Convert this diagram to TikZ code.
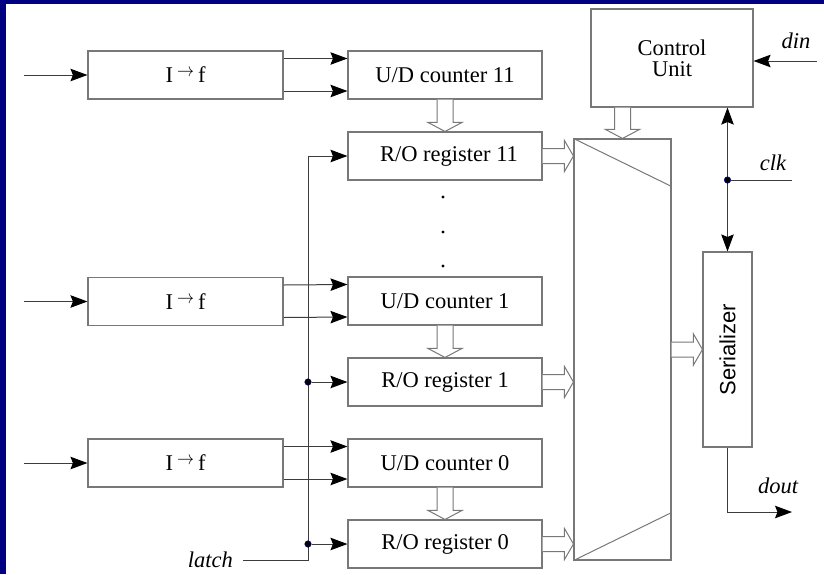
\documentclass[tikz,border=0pt]{standalone}
\usepackage{fontspec}
\setmainfont{Liberation Serif}
\newfontfamily\plainsans{Liberation Sans}
\usetikzlibrary{arrows.meta,calc}
\definecolor{framenavy}{RGB}{0,0,128}
\definecolor{boxline}{RGB}{120,120,120}
\definecolor{wirecol}{RGB}{60,60,60}

% I -> f label with a small raised arrow
\newcommand{\itof}{I\kern4pt\raisebox{6pt}{\resizebox*{17pt}{7pt}{$\rightarrow$}}\kern4pt f}

% hollow (outlined) block arrows between two aligned points
\newcommand{\fatdown}[2]{%
  \draw[fat] ($(#1)+(-8,0)$) -- ($(#2)+(-8,-9)$) -- ($(#2)+(-17,-9)$) -- (#2)
    -- ($(#2)+(17,-9)$) -- ($(#2)+(8,-9)$) -- ($(#1)+(8,0)$);}
\newcommand{\fatright}[2]{%
  \draw[fat] ($(#1)+(0,-7.5)$) -- ($(#2)+(-9,-7.5)$) -- ($(#2)+(-9,-15.5)$) -- (#2)
    -- ($(#2)+(-9,15.5)$) -- ($(#2)+(-9,7.5)$) -- ($(#1)+(0,7.5)$);}

\begin{document}
\begin{tikzpicture}[x=1pt,y=-1pt,
  blk/.style={draw=boxline, line width=1.1pt, fill=white, inner sep=0pt, align=center,
              font=\fontsize{22.5}{21}\selectfont},
  wide/.style={blk, minimum width=194pt, minimum height=48pt},
  wire/.style={draw=wirecol, line width=1pt},
  head/.style={Stealth[length=17pt,width=12.5pt,inset=2.5pt,color=black]},
  arr/.style={wire, -{Stealth[length=17pt,width=12.5pt,inset=2.5pt,color=black]}},
  biarr/.style={wire, {Stealth[length=17pt,width=12.5pt,inset=2.5pt,color=black]}-{Stealth[length=17pt,width=12.5pt,inset=2.5pt,color=black]}},
  fat/.style={draw=boxline, line width=1pt, fill=white, line join=miter},
  lbl/.style={font=\itshape\fontsize{22.5}{22}\selectfont, inner sep=0pt},
  junc/.style={circle, fill=black, draw=blue!50!black, line width=0.5pt, inner sep=0pt, minimum size=6.5pt},
  vdot/.style={circle, fill=black, inner sep=0pt, minimum size=3.2pt},
]
% frame
\fill[framenavy] (0,0) rectangle (824,574);
\fill[white] (6,3.5) rectangle (824,574);
\useasboundingbox (0,0) rectangle (824,574);

% converters
\node[wide, minimum width=195pt] (if11) at (185.5,75)  {\itof};
\node[wide, minimum width=195pt] (if1)  at (185.5,301.5) {\itof};
\node[wide, minimum width=195pt] (if0)  at (185.5,463) {\itof};

% counters and registers
\node[wide] (cnt11) at (445,75)  {U/D counter 11};
\node[wide] (reg11) at (445,156) {\kern8pt R/O register 11};
\node[wide] (cnt1)  at (445,301) {U/D counter 1};
\node[wide] (reg1)  at (445,382) {R/O register 1};
\node[wide] (cnt0)  at (445,463) {U/D counter 0};
\node[wide] (reg0)  at (445,544) {R/O register 0};

% vertical ellipsis
\node[vdot] (e1) at (443,197) {};
\node[vdot] (e2) at (443,232) {};
\node[vdot] (e3) at (443,266) {};

% control unit, multiplexer, serializer
\node[blk, minimum width=162pt, minimum height=98pt] (cu) at (672,58) {Control\\Unit};
\node[draw=boxline, line width=1.1pt, minimum width=97pt, minimum height=421pt, inner sep=0pt] (mux) at (622.5,349.5) {};
\draw[boxline, line width=1pt] (mux.north west) -- ($(mux.north east)+(0,48)$);
\draw[boxline, line width=1pt] (mux.south west) -- ($(mux.south east)+(0,-48)$);
\node[blk, minimum width=49pt, minimum height=195pt] (ser) at (727.5,349.5) {};
\node[rotate=90, inner sep=0pt, font=\plainsans\fontsize{22}{22}\selectfont] (sertext) at (ser.center) {Serializer};

% analog inputs
\coordinate (in11) at (24,75);
\coordinate (in1)  at (24,301.5);
\coordinate (in0)  at (24,463);
\draw[arr] (in11) -- (if11.west);
\draw[arr] (in1)  -- (if1.west);
\draw[arr] (in0)  -- (if0.west);

% converter to counter pairs
\foreach \a/\b in {if11/cnt11, if1/cnt1, if0/cnt0}{
  \draw[arr] ($(\a.east)+(0,-16.5)$) -- ($(\b.west)+(0,-16.5)$);
  \draw[arr] ($(\a.east)+(0,16)$) -- ($(\b.west)+(0,16)$);
}

% latch bus
\coordinate (busx) at (308,0);
\coordinate (latchin) at (243,560);
\draw[arr] (latchin) -- (latchin -| busx) -- (reg11.west -| busx) -- (reg11.west);
\node[junc] (j1) at (reg1.west -| busx) {};
\node[junc] (j0) at (reg0.west -| busx) {};
\draw[arr] (j1) -- (reg1.west);
\draw[arr] (j0) -- (reg0.west);
\node[lbl, anchor=base east] (latchlbl) at (233,567) {latch};

% counter to register transfers
\fatdown{cnt11.south}{reg11.north}
\fatdown{cnt1.south}{reg1.north}
\fatdown{cnt0.south}{reg0.north}

% registers into multiplexer
\coordinate (m11) at (reg11.east -| mux.west);
\coordinate (m1)  at (reg1.east -| mux.west);
\coordinate (m0)  at (reg0.east -| mux.west);
\fatright{reg11.east}{m11}
\fatright{reg1.east}{m1}
\fatright{reg0.east}{m0}

% control unit to multiplexer, multiplexer to serializer
\coordinate (cuout) at (cu.south -| mux.north);
\fatdown{cuout}{mux.north}
\coordinate (serin) at (mux.east -| ser.west);
\fatright{mux.east}{serin}

% control lines
\coordinate (dinstart) at (817,61);
\draw[arr] (dinstart) -- (dinstart -| cu.east);
\node[lbl, anchor=base] (dinlbl) at (796,48) {din};

\draw[biarr] (cu.south -| ser.north) -- (ser.north);
\coordinate (clkin) at (792,180);
\node[junc] (jclk) at (clkin -| ser.north) {};
\draw[wire] (jclk) -- (clkin);
\node[lbl, anchor=base] (clklbl) at (773,170) {clk};

\coordinate (doutend) at (792,512);
\draw[arr] (ser.south) |- (doutend);
\node[lbl, anchor=base] (doutlbl) at (778,493) {dout};
\end{tikzpicture}
\end{document}
